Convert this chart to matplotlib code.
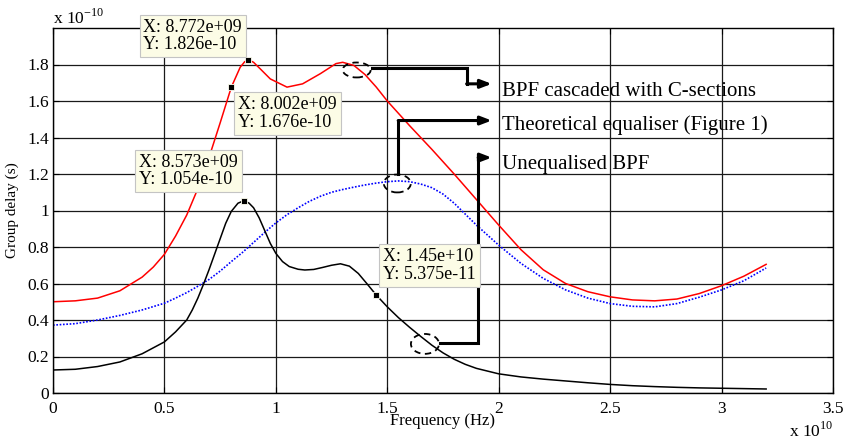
import matplotlib
matplotlib.use('Agg')
import matplotlib.pyplot as plt
from matplotlib.patches import Ellipse
from matplotlib.ticker import FuncFormatter
import numpy as np

plt.rcParams['font.family'] = ['Liberation Serif', 'DejaVu Serif']
plt.rcParams['mathtext.fontset'] = 'custom'
plt.rcParams['mathtext.rm'] = 'Liberation Serif'

# frequencies in units of 1e10 Hz, delays in units of 1e-10 s
f_red = [0, 0.1, 0.2, 0.3, 0.4, 0.45, 0.5, 0.55, 0.6, 0.65, 0.7, 0.75, 0.8002, 0.84, 0.86, 0.8772,
         0.9, 0.93, 0.975, 1.05, 1.12, 1.2, 1.27, 1.3, 1.35, 1.4, 1.45, 1.5, 1.6,
         1.7, 1.8, 1.9, 2.0, 2.1, 2.2, 2.3, 2.4, 2.5, 2.6, 2.7, 2.8, 2.9, 3.0, 3.1, 3.2]
d_red = [0.50, 0.505, 0.52, 0.56, 0.635, 0.69, 0.76, 0.86, 0.975, 1.12, 1.29, 1.48, 1.676, 1.785, 1.815, 1.826,
         1.812, 1.776, 1.721, 1.676, 1.694, 1.75, 1.805, 1.812, 1.795, 1.745, 1.677, 1.60, 1.465,
         1.335, 1.20, 1.06, 0.92, 0.785, 0.675, 0.60, 0.555, 0.527, 0.51, 0.505, 0.515, 0.545, 0.588, 0.64, 0.705]

f_blue = [0, 0.1, 0.2, 0.3, 0.4, 0.5, 0.55, 0.6, 0.65, 0.7, 0.75, 0.8, 0.85, 0.9, 0.95, 1.0,
          1.05, 1.1, 1.15, 1.2, 1.25, 1.3, 1.35, 1.4, 1.45, 1.5, 1.55, 1.6, 1.65, 1.7, 1.75, 1.8, 1.9, 2.0,
          2.1, 2.2, 2.3, 2.4, 2.5, 2.6, 2.7, 2.8, 2.9, 3.0, 3.1, 3.2]
d_blue = [0.372, 0.38, 0.40, 0.425, 0.455, 0.492, 0.52, 0.55, 0.585, 0.622, 0.668, 0.72, 0.77, 0.825, 0.88, 0.932,
          0.977, 1.015, 1.05, 1.078, 1.10, 1.115, 1.128, 1.14, 1.15, 1.158, 1.162, 1.158, 1.145, 1.125, 1.09, 1.04,
          0.92, 0.81, 0.71, 0.628, 0.565, 0.52, 0.49, 0.475, 0.472, 0.49, 0.525, 0.565, 0.615, 0.685]

f_black = [0, 0.1, 0.2, 0.3, 0.4, 0.5, 0.55, 0.6, 0.625, 0.65, 0.675, 0.7, 0.725, 0.75, 0.775, 0.8,
           0.83, 0.8573, 0.88, 0.9, 0.925, 0.95, 0.975, 1.0, 1.03, 1.06, 1.1, 1.13, 1.17, 1.21,
           1.25, 1.29, 1.33, 1.37, 1.41, 1.45, 1.5, 1.55, 1.6, 1.65, 1.7, 1.75, 1.8, 1.85, 1.9, 2.0,
           2.1, 2.2, 2.3, 2.4, 2.5, 2.6, 2.7, 2.8, 2.9, 3.0, 3.1, 3.2]
d_black = [0.126, 0.13, 0.145, 0.17, 0.215, 0.28, 0.335, 0.40, 0.455, 0.52, 0.595, 0.675, 0.76, 0.845, 0.93, 0.995,
           1.04, 1.054, 1.04, 1.015, 0.96, 0.89, 0.82, 0.765, 0.72, 0.693, 0.678, 0.674, 0.677, 0.688,
           0.70, 0.708, 0.695, 0.655, 0.597, 0.5375, 0.472, 0.413, 0.36, 0.31, 0.262, 0.22, 0.185, 0.157, 0.135, 0.105,
           0.088, 0.076, 0.066, 0.056, 0.047, 0.04, 0.035, 0.031, 0.028, 0.026, 0.024, 0.022]

# data tips (Hz, s)
tip_x = [8.772e9, 8.002e9, 8.573e9, 1.45e10]
tip_y = [1.826e-10, 1.676e-10, 1.054e-10, 5.375e-11]
tip_off = [(-105, 41), (7, -9), (-105, 47), (7, 47)]  # pixel offsets of the boxes

xticks = [0, 0.5, 1, 1.5, 2, 2.5, 3, 3.5]
yticks = [0, 0.2, 0.4, 0.6, 0.8, 1, 1.2, 1.4, 1.6, 1.8]

fig = plt.figure(figsize=(8.53, 4.41), dpi=100)
ax = fig.add_axes([53/853, 48/441, 780/853, 365/441])

ax.plot(np.array(f_red)*1e10, np.array(d_red)*1e-10, color='#ff0000', lw=1.1)
ax.plot(np.array(f_blue)*1e10, np.array(d_blue)*1e-10, color='#0000ff', lw=1.2, ls=(0, (1, 1)))
ax.plot(np.array(f_black)*1e10, np.array(d_black)*1e-10, color='k', lw=1.1)

ax.set_xlim(0, 3.5e10)
ax.set_ylim(0, 2e-10)
ax.set_xticks(np.array(xticks)*1e10)
ax.set_yticks(np.array(yticks)*1e-10)
ax.xaxis.set_major_formatter(FuncFormatter(lambda v, p: '%g' % round(v/1e10, 3)))
ax.yaxis.set_major_formatter(FuncFormatter(lambda v, p: '%g' % round(v/1e-10, 3)))
ax.tick_params(direction='in', top=True, right=True, length=4, width=0.8, labelsize=12.5, colors='k')
ax.tick_params(axis='x', pad=6)
ax.tick_params(axis='y', pad=3)
ax.grid(True, color='#1a1a1a', lw=0.9, ls='-')
for s in ax.spines.values():
    s.set_linewidth(1.0)

ax.set_xlabel('Frequency (Hz)', fontsize=12)
ax.set_ylabel('Group delay (s)', fontsize=11)
ax.xaxis.set_label_coords(0.5, -0.055)
ax.yaxis.set_label_coords(-0.044, 0.5)

fig.text(53/853, 417/441, r'x 10$^{-10}$', fontsize=12.5, va='baseline', ha='left')
fig.text(833/853, 4.5/441, r'x 10$^{10}$', fontsize=12.5, va='baseline', ha='right')

# dashed ellipses marking the curves
for cx, cy, w, h in [(1.3627, 1.770, 0.1256, 0.082), (1.545, 1.148, 0.121, 0.098), (1.669, 0.269, 0.126, 0.109)]:
    ax.add_patch(Ellipse((cx*1e10, cy*1e-10), w*1e10, h*1e-10, fill=False, ec='k', lw=1.3,
                         ls=(0, (3.5, 2.5)), zorder=4))

# arrows to the labels
paths = [
    [(1.430, 1.779), (1.856, 1.779), (1.856, 1.694), (1.9685, 1.694)],
    [(1.549, 1.202), (1.549, 1.493), (1.9685, 1.493)],
    [(1.7365, 0.275), (1.908, 0.275), (1.908, 1.290), (1.9685, 1.290)],
]
labels = ['BPF cascaded with C-sections', 'Theoretical equaliser (Figure 1)', 'Unequalised BPF']
label_base = [1.625, 1.439, 1.230]
for pts, lab, yb in zip(paths, labels, label_base):
    xs = [p[0]*1e10 for p in pts]
    ys = [p[1]*1e-10 for p in pts]
    ax.plot(xs[:-1], ys[:-1], color='k', lw=2.2, solid_joinstyle='miter', zorder=5)
    ax.annotate('', xy=(xs[-1], ys[-1]), xytext=(xs[-2], ys[-2]),
                arrowprops=dict(arrowstyle='-|>,head_length=0.65,head_width=0.25', lw=2.2, color='k',
                                shrinkA=0, shrinkB=0, mutation_scale=10), zorder=5)
    ax.text(2.013e10, yb*1e-10, lab, fontsize=15, va='baseline', ha='left', zorder=6)

# data tips
for x, y, (dx, dy) in zip(tip_x, tip_y, tip_off):
    ax.plot(x, y, marker='s', ms=4.5, mfc='k', mec='#fffff0', mew=0.6, zorder=8)
    ax.annotate('X: %.4g\nY: %.4g' % (x, y), xy=(x, y), xytext=(dx, dy), textcoords='offset pixels',
                ha='left', va='top', fontsize=13, linespacing=1.05, zorder=9,
                bbox=dict(boxstyle='square,pad=0.22', fc='#fcfce6', ec='#c4c4c4', lw=0.8))

fig.savefig('out.png', dpi=100)
